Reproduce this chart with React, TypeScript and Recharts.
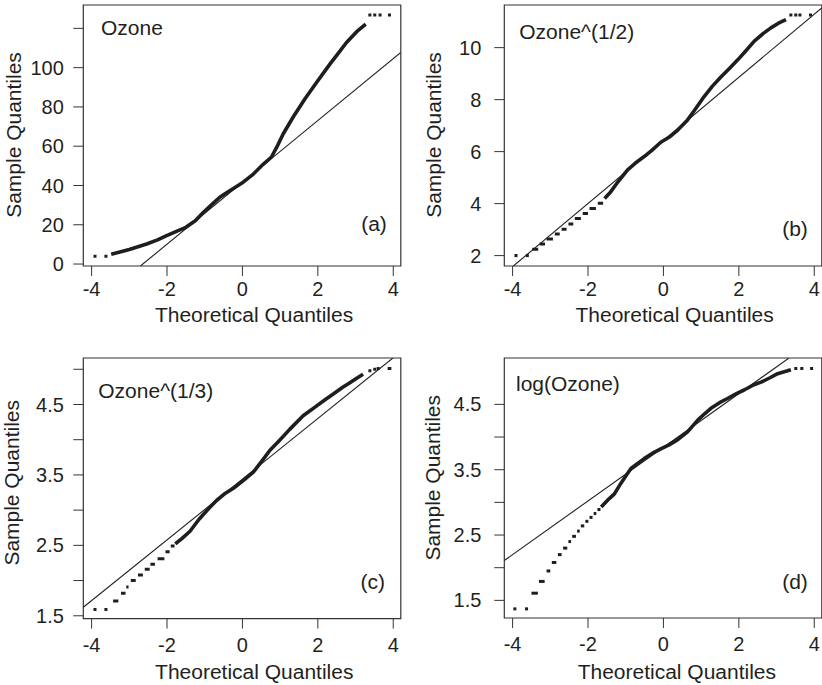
import React from 'react';
import { ComposedChart, Line, XAxis, YAxis, ReferenceArea, Label } from 'recharts';

const FONT = "'Liberation Sans', Arial, Helvetica, sans-serif";
const INK = '#231f20';

type Pt = [number, number];
type Run = [number, number, number]; // [quantile start, quantile end, sample value]

// shared theoretical-quantile axis
const xTicks = [-4, -2, 0, 2, 4];
const xDomain: [number, number] = [-4.22, 4.2];

// ---------- (a) Ozone ----------
const yTicksA = [0, 20, 40, 60, 80, 100, 120];
const yLabelsA = ['0', '20', '40', '60', '80', '100', ''];
const yDomainA: [number, number] = [-1.0, 131.9];
const curveA: Pt[] = [
  [-3.48, 5.0], [-3.25, 6.1], [-3.0, 7.4], [-2.75, 8.9], [-2.54, 10.2], [-2.25, 12.3],
  [-2.01, 14.5], [-1.75, 16.6], [-1.5, 18.7], [-1.25, 22.0], [-1.04, 26.2], [-0.8, 30.5],
  [-0.6, 34.0], [-0.4, 36.6], [-0.24, 38.5], [0.02, 41.7], [0.29, 45.8], [0.55, 50.8],
  [0.77, 54.5], [0.91, 59.5], [1.08, 66.2], [1.35, 75.0], [1.66, 84.2], [1.97, 92.6],
  [2.32, 101.8], [2.55, 107.5], [2.76, 112.8], [3.03, 118.3], [3.27, 122.2],
];
const runsA: Run[] = [
  [-3.95, -3.87, 4], [-3.66, -3.58, 4],
  [3.34, 3.42, 126.8], [3.47, 3.55, 126.8], [3.61, 3.69, 126.8], [3.86, 3.94, 126.8],
];
const qqLineA: Pt[] = [[-2.705, -1.0], [4.2, 107.75]];

// ---------- (b) Ozone^(1/2) ----------
const yTicksB = [2, 4, 6, 8, 10];
const yLabelsB = ['2', '4', '6', '8', '10'];
const yDomainB: [number, number] = [1.6, 11.64];
const curveB: Pt[] = [
  [-1.56, 4.2], [-1.4, 4.45], [-1.2, 4.85], [-0.95, 5.3], [-0.75, 5.55], [-0.51, 5.81],
  [-0.3, 6.06], [-0.07, 6.36], [0.15, 6.55], [0.38, 6.83], [0.64, 7.22], [0.82, 7.58],
  [1.08, 8.12], [1.3, 8.52], [1.53, 8.88], [1.75, 9.2], [1.97, 9.53], [2.2, 9.9],
  [2.41, 10.25], [2.65, 10.55], [2.85, 10.76], [3.05, 10.94], [3.25, 11.08],
];
const runsB: Run[] = [
  [-3.95, -3.87, 2.0], [-3.65, -3.57, 2.0],
  [-3.48, -3.32, 2.24], [-3.28, -3.14, 2.45], [-3.1, -2.93, 2.64], [-2.88, -2.75, 2.83],
  [-2.7, -2.57, 3.01], [-2.52, -2.39, 3.22], [-2.35, -2.19, 3.43], [-2.14, -2.0, 3.62],
  [-1.96, -1.79, 3.81], [-1.74, -1.6, 4.01],
  [3.34, 3.42, 11.26], [3.47, 3.55, 11.26], [3.58, 3.66, 11.26], [3.86, 3.94, 11.26],
];
const qqLineB: Pt[] = [[-3.98, 1.6], [4.2, 11.53]];

// ---------- (c) Ozone^(1/3) ----------
const yTicksC = [1.5, 2, 2.5, 3, 3.5, 4, 4.5, 5];
const yLabelsC = ['1.5', '', '2.5', '', '3.5', '', '4.5', ''];
const yDomainC: [number, number] = [1.46, 5.16];
const curveC: Pt[] = [
  [-1.78, 2.52], [-1.6, 2.6], [-1.39, 2.7], [-1.15, 2.87], [-0.9, 3.02], [-0.68, 3.14],
  [-0.45, 3.24], [-0.24, 3.31], [0.02, 3.42], [0.29, 3.54], [0.55, 3.72], [0.73, 3.85],
  [0.95, 3.97], [1.26, 4.15], [1.61, 4.34], [1.97, 4.48], [2.2, 4.57], [2.41, 4.65],
  [2.65, 4.74], [2.85, 4.81], [3.05, 4.88], [3.2, 4.93],
];
const runsC: Run[] = [
  [-3.95, -3.87, 1.59], [-3.66, -3.58, 1.59],
  [-3.43, -3.29, 1.71], [-3.22, -3.1, 1.82], [-3.08, -3.02, 1.91], [-2.96, -2.83, 2.0],
  [-2.77, -2.64, 2.08], [-2.59, -2.46, 2.16], [-2.44, -2.32, 2.23], [-2.25, -2.07, 2.31],
  [-2.04, -1.93, 2.41], [-1.9, -1.8, 2.49],
  [3.34, 3.42, 4.98], [3.47, 3.55, 5.0], [3.56, 3.64, 5.01], [3.85, 3.95, 5.01],
];
const qqLineC: Pt[] = [[-4.22, 1.62], [3.99, 5.16]];

// ---------- (d) log(Ozone) ----------
const yTicksD = [1.5, 2, 2.5, 3, 3.5, 4, 4.5];
const yLabelsD = ['1.5', '', '2.5', '', '3.5', '', '4.5'];
const yDomainD: [number, number] = [1.23, 5.21];
const curveD: Pt[] = [
  [-1.65, 2.93], [-1.45, 3.05], [-1.3, 3.13], [-1.13, 3.29], [-0.98, 3.42], [-0.86, 3.52],
  [-0.7, 3.59], [-0.51, 3.67], [-0.3, 3.75], [-0.07, 3.82], [0.15, 3.88], [0.38, 3.96],
  [0.64, 4.08], [0.91, 4.26], [1.1, 4.36], [1.26, 4.44], [1.5, 4.53], [1.7, 4.59],
  [1.95, 4.67], [2.14, 4.72], [2.4, 4.8], [2.59, 4.84], [2.8, 4.9], [3.03, 4.97],
  [3.27, 5.01], [3.38, 5.03],
];
const runsD: Run[] = [
  [-3.98, -3.9, 1.37], [-3.67, -3.59, 1.37],
  [-3.5, -3.33, 1.61], [-3.3, -3.15, 1.79], [-3.1, -3.0, 1.95], [-2.96, -2.84, 2.08],
  [-2.8, -2.7, 2.2], [-2.66, -2.55, 2.3], [-2.52, -2.45, 2.4], [-2.42, -2.32, 2.48],
  [-2.29, -2.22, 2.56], [-2.19, -2.1, 2.64], [-2.07, -1.99, 2.71], [-1.96, -1.88, 2.77],
  [-1.85, -1.78, 2.83], [-1.75, -1.67, 2.89],
  [3.47, 3.55, 5.05], [3.63, 3.71, 5.05], [3.89, 3.97, 5.05],
];
const qqLineD: Pt[] = [[-4.22, 2.11], [3.33, 5.21]];

const toPts = (arr: Pt[]) => arr.map(([q, v]) => ({ q, v }));
const runToPts = ([q1, q2, v]: Run) => [{ q: q1, v }, { q: q2, v }];

interface PanelProps {
  left: number; top: number; plotW: number; plotH: number;
  yDomain: [number, number]; yTicks: number[]; yLabels: string[];
  curve: Pt[]; runs: Run[]; qqLine: Pt[];
  name: string; tag: string;
  xTickMargin: number; yTickMargin: number;
  nameDx: number; nameDy: number; tagDx: number; tagDy: number;
  xTitleDx: number; xTitleDy: number; yTitleDx: number; yTitleDy: number;
}

function Panel(p: PanelProps) {
  const ML = 13.3, YW = 70, MT = 5, MR = 5, XH = 40, MB = 32;
  const W = ML + YW + p.plotW + MR;
  const H = MT + p.plotH + XH + MB;
  const renderText = (props: any) => {
    const vb = props.viewBox || {};
    const x = vb.x, y = vb.y, w = vb.width, h = vb.height;
    const R = x + w, B = y + h;
    return (
      <g fontFamily={FONT} fill={INK}>
        <text x={x + p.nameDx} y={y + p.nameDy} fontSize={21}>{p.name}</text>
        <text x={R - p.tagDx} y={B - p.tagDy} fontSize={21} textAnchor="end">{p.tag}</text>
        <text x={x + w / 2 + p.xTitleDx} y={B + p.xTitleDy} fontSize={21} textAnchor="middle">Theoretical Quantiles</text>
        <text x={0} y={0} fontSize={21} textAnchor="middle"
          transform={`translate(${x + p.yTitleDx},${y + p.yTitleDy}) rotate(-90)`}>Sample Quantiles</text>
      </g>
    );
  };
  return (
    <div style={{ position: 'absolute', left: p.left - ML - YW, top: p.top - MT, width: W, height: H }}>
      <ComposedChart width={W} height={H} margin={{ top: MT, right: MR, bottom: MB, left: ML }}>
        <XAxis type="number" dataKey="q" domain={xDomain} ticks={xTicks} allowDataOverflow interval={0}
          axisLine={false} tickLine={{ stroke: '#333', strokeWidth: 1 }} tickSize={10}
          tickMargin={p.xTickMargin} height={XH}
          tick={{ fill: INK, fontSize: 20, fontFamily: FONT }} />
        <YAxis type="number" domain={p.yDomain} ticks={p.yTicks} allowDataOverflow interval={0}
          axisLine={false} tickLine={{ stroke: '#333', strokeWidth: 1 }} tickSize={10}
          tickMargin={p.yTickMargin} width={YW}
          tickFormatter={(v: number) => p.yLabels[p.yTicks.indexOf(v)] ?? ''}
          tick={{ fill: INK, fontSize: 20, fontFamily: FONT }} />
        <ReferenceArea x1={xDomain[0]} x2={xDomain[1]} y1={p.yDomain[0]} y2={p.yDomain[1]}
          fill="none" fillOpacity={0} stroke="#333" strokeWidth={1.2} ifOverflow="visible">
          <Label content={renderText} />
        </ReferenceArea>
        <Line data={toPts(p.qqLine)} dataKey="v" type="linear" stroke={INK} strokeWidth={1.1}
          dot={false} activeDot={false} isAnimationActive={false} legendType="none" />
        {p.runs.map((r, i) => (
          <Line key={'r' + i} data={runToPts(r)} dataKey="v" type="linear" stroke="#1e1e1e" strokeWidth={3}
            dot={false} activeDot={false} isAnimationActive={false} legendType="none" />
        ))}
        <Line data={toPts(p.curve)} dataKey="v" type="linear" stroke="#1e1e1e" strokeWidth={3.6}
          strokeLinejoin="round" dot={false} activeDot={false} isAnimationActive={false} legendType="none" />
      </ComposedChart>
    </div>
  );
}

export default function App() {
  return (
    <div style={{ position: 'absolute', left: 0, top: 0, width: 822, height: 685, background: '#fff', overflow: 'hidden' }}>
      <Panel left={83.3} top={5} plotW={317.5} plotH={261} yDomain={yDomainA} yTicks={yTicksA} yLabels={yLabelsA}
        curve={curveA} runs={runsA} qqLine={qqLineA} name="Ozone" tag="(a)"
        xTickMargin={6} yTickMargin={9.5} nameDx={17.7} nameDy={30} tagDx={14} tagDy={35}
        xTitleDx={12} xTitleDy={55.7} yTitleDx={-61.9} yTitleDy={130} />
      <Panel left={504.3} top={5} plotW={317.5} plotH={261} yDomain={yDomainB} yTicks={yTicksB} yLabels={yLabelsB}
        curve={curveB} runs={runsB} qqLine={qqLineB} name="Ozone^(1/2)" tag="(b)"
        xTickMargin={6} yTickMargin={13} nameDx={15} nameDy={34} tagDx={14} tagDy={30}
        xTitleDx={11.6} xTitleDy={55.7} yTitleDx={-63.7} yTitleDy={130} />
      <Panel left={83.3} top={357.7} plotW={317.5} plotH={260.6} yDomain={yDomainC} yTicks={yTicksC} yLabels={yLabelsC}
        curve={curveC} runs={runsC} qqLine={qqLineC} name="Ozone^(1/3)" tag="(c)"
        xTickMargin={9} yTickMargin={9.5} nameDx={15} nameDy={39.6} tagDx={15.8} tagDy={29.3}
        xTitleDx={12.2} xTitleDy={60.3} yTitleDx={-64.6} yTitleDy={124.8} />
      <Panel left={504.3} top={357.7} plotW={317.5} plotH={260} yDomain={yDomainD} yTicks={yTicksD} yLabels={yLabelsD}
        curve={curveD} runs={runsD} qqLine={qqLineD} name="log(Ozone)" tag="(d)"
        xTickMargin={9} yTickMargin={13} nameDx={11.7} nameDy={33} tagDx={14} tagDy={28.7}
        xTitleDx={13.8} xTitleDy={60.6} yTitleDx={-63.9} yTitleDy={119.8} />
    </div>
  );
}
